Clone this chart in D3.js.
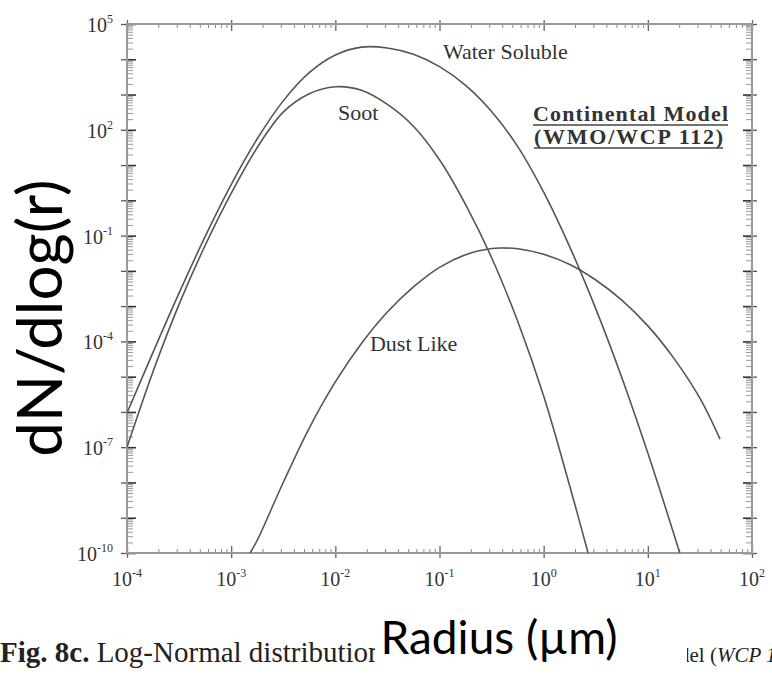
<!DOCTYPE html>
<html>
<head>
<meta charset="utf-8">
<script src="https://cdn.jsdelivr.net/npm/d3@7.9.0/dist/d3.min.js"></script>
<style>
  html, body { margin: 0; padding: 0; background: #fff; }
  svg { display: block; }
</style>
</head>
<body>
<svg id="chart" width="772" height="676"></svg>
<script>
// ---------- Data ----------
const radiusWater = [1e-4, 1.78e-4, 3.16e-4, 5.62e-4, 1e-3, 1.78e-3, 3.16e-3, 5.62e-3, 0.01, 0.0178, 0.0316, 0.0562, 0.1, 0.178, 0.316, 0.562, 1, 1.78, 3.16, 5.62, 10, 17.8, 20.4];
const valueWater  = [9.3e-7, 4.95e-5, 2.34e-3, 0.0933, 2.79, 55.6, 661, 4170, 13200, 22100, 20900, 13800, 6170, 1820, 331, 33.9, 1.70, 0.0479, 8.5e-4, 9.5e-6, 6.8e-8, 3.4e-10, 9.3e-11];

const radiusSoot = [1e-4, 1.78e-4, 3.16e-4, 5.62e-4, 1e-3, 1.78e-3, 3.16e-3, 5.62e-3, 0.01, 0.0178, 0.0316, 0.0562, 0.1, 0.178, 0.316, 0.562, 1, 1.78, 2.67];
const valueSoot  = [1.0e-7, 1.41e-5, 1.12e-3, 0.0525, 1.58, 31.6, 316, 1050, 1660, 1320, 525, 126, 14.1, 0.759, 0.024, 3.8e-4, 2.82e-6, 7.9e-9, 1e-10];

const radiusDust = [1.52e-3, 1.78e-3, 3.16e-3, 5.62e-3, 0.01, 0.0178, 0.0316, 0.0562, 0.1, 0.178, 0.316, 0.398, 0.562, 1, 1.78, 3.16, 5.62, 10, 17.8, 31.6, 49.3];
const valueDust  = [1e-10, 2.3e-10, 1.0e-8, 3.5e-7, 7.1e-6, 8.7e-5, 6.8e-4, 3.5e-3, 0.0126, 0.0288, 0.0432, 0.0447, 0.0422, 0.0295, 0.0151, 5.5e-3, 1.48e-3, 2.75e-4, 3.3e-5, 2.45e-6, 1.7e-7];

// curve labels: [text, radius, value at baseline]
const curveLabels = [
  ['Water Soluble', 0.108, 1.05e4],
  ['Soot', 0.0106, 190],
  ['Dust Like', 0.0215, 5.2e-5],
];

const xTickExp = [-4, -3, -2, -1, 0, 1, 2];
const yTickExp = [5, 2, -1, -4, -7, -10];

// ---------- Layout ----------
const plot = { left: 127, right: 752, top: 24, bottom: 553 };

const svg = d3.select('#chart');
svg.append('rect').attr('width', 772).attr('height', 676).attr('fill', '#fff');

const x = d3.scaleLog().domain([1e-4, 1e2]).range([plot.left, plot.right]);
const y = d3.scaleLog().domain([1e-10, 1e5]).range([plot.bottom, plot.top]);

// decade + minor tick values
const decX = d3.range(-4, 3).map((e) => Math.pow(10, e));
const minX = d3.range(-4, 2).flatMap((e) => d3.range(2, 10).map((k) => k * Math.pow(10, e)));
const decY = d3.range(-10, 6).map((e) => Math.pow(10, e));
const minY = d3.range(-10, 5).flatMap((e) => d3.range(2, 10).map((k) => k * Math.pow(10, e)));

function addAxis(axisFn, scale, values, size, tr, color, w) {
  svg.append('g')
    .attr('transform', tr)
    .call(axisFn(scale).tickValues(values).tickSize(size).tickFormat(''))
    .call((g) => {
      g.select('.domain').remove();
      g.selectAll('.tick line').attr('stroke', color).attr('stroke-width', w);
    });
}

// bottom
addAxis(d3.axisBottom, x, minX, -4, `translate(0,${plot.bottom})`, '#888', 1);
addAxis(d3.axisBottom, x, decX, -7, `translate(0,${plot.bottom})`, '#666', 1.3);
addAxis(d3.axisBottom, x, decX, 5, `translate(0,${plot.bottom})`, '#666', 1.3);
// top
addAxis(d3.axisTop, x, minX, -4, `translate(0,${plot.top})`, '#888', 1);
addAxis(d3.axisTop, x, decX, -7, `translate(0,${plot.top})`, '#666', 1.3);
addAxis(d3.axisTop, x, decX, 4, `translate(0,${plot.top})`, '#666', 1.3);
// left
addAxis(d3.axisLeft, y, minY, -6, `translate(${plot.left},0)`, '#999', 1);
addAxis(d3.axisLeft, y, decY, -9, `translate(${plot.left},0)`, '#333', 1.6);
addAxis(d3.axisLeft, y, decY, 6, `translate(${plot.left},0)`, '#555', 1.3);
// right
addAxis(d3.axisRight, y, minY, -6, `translate(${plot.right},0)`, '#999', 1);
addAxis(d3.axisRight, y, decY, -9, `translate(${plot.right},0)`, '#333', 1.6);
addAxis(d3.axisRight, y, decY, 5, `translate(${plot.right},0)`, '#555', 1.3);

// frame
svg.append('rect')
  .attr('x', plot.left).attr('y', plot.top)
  .attr('width', plot.right - plot.left).attr('height', plot.bottom - plot.top)
  .attr('fill', 'none').attr('stroke', '#999').attr('stroke-width', 2);

// tick labels
const serif = '"Liberation Serif", "Times New Roman", serif';
const tl = svg.append('g').attr('font-family', serif).attr('fill', '#333');
xTickExp.forEach((e) => {
  const t = tl.append('text')
    .attr('x', x(Math.pow(10, e))).attr('y', plot.bottom + 33)
    .attr('text-anchor', 'middle').attr('font-size', 20);
  t.append('tspan').text('10');
  t.append('tspan').attr('font-size', 12).attr('dy', -9).text(e);
});
yTickExp.forEach((e) => {
  const t = tl.append('text')
    .attr('x', plot.left - 14).attr('y', y(Math.pow(10, e)) + 8)
    .attr('text-anchor', 'end').attr('font-size', 20);
  t.append('tspan').text('10');
  t.append('tspan').attr('font-size', 12).attr('dy', -9).text(e);
});

// ---------- Curves ----------
svg.append('clipPath').attr('id', 'clip')
  .append('rect')
  .attr('x', plot.left).attr('y', plot.top)
  .attr('width', plot.right - plot.left).attr('height', plot.bottom - plot.top);

const line = d3.line()
  .x((d) => x(d[0]))
  .y((d) => y(d[1]))
  .curve(d3.curveCatmullRom.alpha(0.5));

const series = [
  d3.zip(radiusWater, valueWater),
  d3.zip(radiusSoot, valueSoot),
  d3.zip(radiusDust, valueDust),
];

svg.append('g').attr('clip-path', 'url(#clip)')
  .selectAll('path')
  .data(series)
  .join('path')
  .attr('d', line)
  .attr('fill', 'none')
  .attr('stroke', '#555')
  .attr('stroke-width', 1.6);

// curve labels
svg.append('g').attr('font-family', serif).attr('font-size', 22).attr('fill', '#333')
  .selectAll('text')
  .data(curveLabels)
  .join('text')
  .attr('x', (d) => x(d[1]))
  .attr('y', (d) => y(d[2]))
  .text((d) => d[0]);

// model title
const title = svg.append('g').attr('font-family', serif).attr('font-weight', 'bold')
  .attr('font-size', 22).attr('fill', '#333');
title.append('text').attr('x', 533).attr('y', 121).attr('textLength', 195).text('Continental Model');
title.append('text').attr('x', 534).attr('y', 144).attr('textLength', 189).text('(WMO/WCP 112)');
title.append('line').attr('x1', 533).attr('x2', 728).attr('y1', 125).attr('y2', 125)
  .attr('stroke', '#444').attr('stroke-width', 1.6);
title.append('line').attr('x1', 534).attr('x2', 723).attr('y1', 148).attr('y2', 148)
  .attr('stroke', '#444').attr('stroke-width', 1.6);

// caption (partly hidden behind the axis-title box)
const cap = svg.append('text').attr('x', 0).attr('y', 662)
  .attr('font-family', serif).attr('font-size', 29).attr('fill', '#222');
cap.append('tspan').attr('font-weight', 'bold').text('Fig. 8c.');
cap.append('tspan').text(' Log-Normal distribution');
const cap2 = svg.append('text').attr('x', 679).attr('y', 662)
  .attr('font-family', serif).attr('font-size', 21).attr('fill', '#222');
cap2.append('tspan').text('del (');
cap2.append('tspan').attr('font-style', 'italic').text('WCP 1');

svg.append('rect').attr('x', 375).attr('y', 603).attr('width', 312).attr('height', 73).attr('fill', '#fff');

// axis titles
const sans = 'Lato, "Open Sans", sans-serif';
svg.append('text')
  .attr('x', 499).attr('y', 654)
  .attr('text-anchor', 'middle')
  .attr('font-family', sans).attr('font-size', 46).attr('fill', '#000')
  .text('Radius (µm)');

svg.append('text')
  .attr('transform', 'translate(62,318) rotate(-90)')
  .attr('text-anchor', 'middle')
  .attr('font-family', sans).attr('font-size', 62).attr('fill', '#000')
  .text('dN/dlog(r)');
</script>
</body>
</html>
